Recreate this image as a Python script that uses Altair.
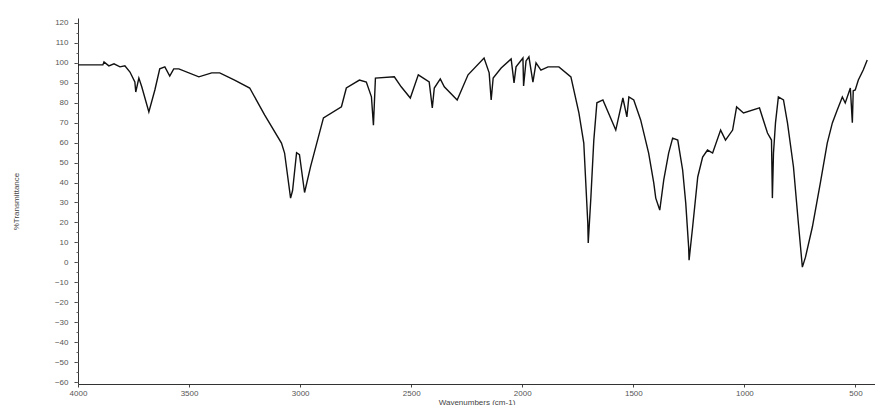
import altair as alt
import pandas as pd

wavenumber = [4000, 3888, 3883, 3861, 3838, 3811, 3789, 3766, 3744, 3740, 3726, 3713,
              3681, 3654, 3632, 3609, 3587, 3569, 3546, 3456, 3398, 3362, 3295, 3227,
              3160, 3084, 3070, 3043, 3034, 3016, 3003, 2980, 2953, 2895, 2814, 2792,
              2733, 2702, 2679, 2670, 2661, 2576, 2545, 2504, 2468, 2419, 2405, 2396,
              2369, 2351, 2293, 2244, 2172, 2149, 2140, 2131, 2095, 2050, 2037, 2028,
              1997, 1994, 1983, 1970, 1952, 1938, 1916, 1884, 1835, 1781, 1745, 1723,
              1714, 1705, 1703, 1691, 1678, 1664, 1637, 1579, 1547, 1529, 1520, 1498,
              1467, 1431, 1408, 1399, 1381, 1363, 1341, 1323, 1300, 1278, 1264, 1251,
              1249, 1233, 1210, 1188, 1166, 1143, 1107, 1085, 1053, 1035, 1004, 932,
              896, 878, 874, 869, 860, 847, 824, 806, 779, 757, 739, 725, 694, 658,
              627, 604, 582, 559, 546, 523, 514, 510, 501, 487, 465, 447]
transmittance = [99, 99, 100.5, 98.5, 99.5, 98, 98.5, 95.4, 90.4, 85.4, 92.4, 88,
                 75.4, 86.4, 97, 98, 93.4, 97, 97, 93, 95, 95, 91.4, 87.4,
                 73.9, 59.8, 54.8, 32.2, 36, 55, 54, 35, 48, 72.4, 78, 87.4,
                 91.4, 90.4, 83, 68.8, 92.4, 93, 88, 82.4, 94, 90.4, 77.4, 87.4,
                 92, 88, 81.4, 94, 102.4, 95, 81.4, 92.4, 97.4, 102, 90, 98,
                 102.4, 88.4, 101, 103, 90.4, 100, 96.4, 98, 98, 93, 74.9, 59.8,
                 39.8, 19.7, 9.7, 32.7, 61, 80, 81.4, 66.3, 82.4, 72.9, 82.9, 81.4,
                 71.4, 54.8, 39.8, 32.2, 26.2, 41.3, 54.8, 62.3, 61.3, 46.3, 29.7, 7.7,
                 1.1, 17.7, 42.8, 52.8, 56.3, 54.8, 66.3, 61.3, 66.3, 77.9, 74.9, 77.4,
                 64.8, 61.3, 32.2, 54.8, 69.9, 82.9, 81.4, 69.9, 47.8, 19.7, -2.4, 2.6, 17.7, 39.8,
                 59.8, 69.9, 76.4, 82.9, 79.9, 87.4, 70, 86, 86.4, 91.4, 96.4, 101.4]

x_ticks = [4000, 3500, 3000, 2500, 2000, 1500, 1000, 500]
y_ticks = list(range(-60, 121, 10))
y_minor = list(range(-60, 121, 5))

df = pd.DataFrame({"w": wavenumber, "t": transmittance, "i": list(range(len(wavenumber)))})

xscale = alt.Scale(domain=[412, 4000], reverse=True, nice=False, zero=False)
yscale = alt.Scale(domain=[-61, 122.5], nice=False, zero=False)

axis_common = dict(labelFont="Liberation Sans", labelFontSize=8, labelColor="#555555",
                   titleFont="Liberation Sans", titleFontSize=8, titleFontWeight="normal",
                   titleColor="#444444", domainColor="#333333", tickColor="#444444",
                   grid=False)

line = alt.Chart(df).mark_line(color="#111111", strokeWidth=1.4, interpolate="linear").encode(
    x=alt.X("w:Q", scale=xscale,
            axis=alt.Axis(values=x_ticks, format="d", title="Wavenumbers (cm-1)",
                          tickSize=3, labelPadding=2, titlePadding=1, labelFlush=False,
                          **axis_common)),
    y=alt.Y("t:Q", scale=yscale,
            axis=alt.Axis(values=y_ticks, format="d", title="%Transmittance",
                          tickSize=4, labelPadding=6, titlePadding=34, orient="left",
                          labelFlush=False, **axis_common)),
    order="i:Q",
)

minor = alt.Chart(df).mark_line(opacity=0).encode(
    x=alt.X("w:Q", scale=xscale, axis=None),
    y=alt.Y("t:Q", scale=yscale,
            axis=alt.Axis(values=y_minor, labels=False, title=None, tickSize=2,
                          orient="left", domain=False, tickColor="#666666", grid=False)),
)

chart = alt.layer(line, minor).resolve_axis(x="independent", y="independent").properties(
    width=797, height=366,
    autosize=alt.AutoSizeParams(type="none"),
    padding={"left": 70, "top": 10, "right": 0, "bottom": 21},
).configure_view(stroke=None)

chart.save("out.html", embed_options={"renderer": "svg", "actions": False})
